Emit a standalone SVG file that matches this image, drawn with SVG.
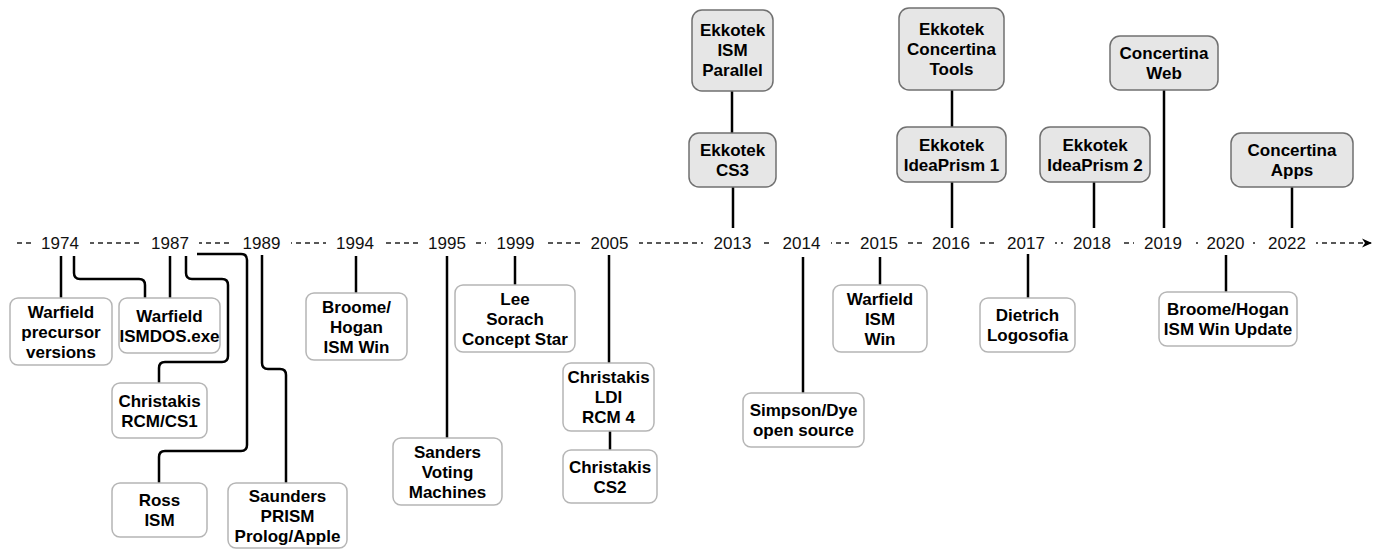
<svg xmlns="http://www.w3.org/2000/svg" width="1378" height="549" viewBox="0 0 1378 549">
<style>
.b{fill:#fff;stroke:#b5b5b5;stroke-width:1.5}
.t{fill:#e6e6e6;stroke:#707070;stroke-width:1.5}
.lbl{font-family:"Liberation Sans",Arial,sans-serif;font-weight:bold;font-size:17px;fill:#000;text-anchor:middle}
.yr{font-family:"Liberation Sans",Arial,sans-serif;font-size:17px;fill:#111;text-anchor:middle}
.c{fill:none;stroke:#000;stroke-width:2.5}
.ybg{fill:#fff}
</style>
<defs>
<marker id="arr" markerWidth="10" markerHeight="10" refX="9" refY="5" orient="auto" markerUnits="userSpaceOnUse">
<path d="M0 0.5 L10 5 L0 9.5 L3 5 Z" fill="#000"/>
</marker>
</defs>
<rect width="1378" height="549" fill="#fff"/>
<g id="timeline">
<line x1="17" y1="243" x2="1371" y2="243" stroke="#222" stroke-width="1.5" stroke-dasharray="5 4" marker-end="url(#arr)"/>
<g class="ybg">
<rect x="31" y="232" width="59" height="22"/>
<rect x="141" y="232" width="58" height="22"/>
<rect x="232" y="232" width="59" height="22"/>
<rect x="326" y="232" width="58" height="22"/>
<rect x="418" y="232" width="58" height="22"/>
<rect x="486" y="232" width="59" height="22"/>
<rect x="580" y="232" width="59" height="22"/>
<rect x="703" y="232" width="59" height="22"/>
<rect x="772" y="232" width="59" height="22"/>
<rect x="849" y="232" width="59" height="22"/>
<rect x="922" y="232" width="58" height="22"/>
<rect x="997" y="232" width="58" height="22"/>
<rect x="1063" y="232" width="58" height="22"/>
<rect x="1134" y="232" width="58" height="22"/>
<rect x="1198" y="232" width="55" height="22"/>
<rect x="1258" y="232" width="58" height="22"/>
</g>
<text class="yr" x="60" y="248.5">1974</text>
<text class="yr" x="170" y="248.5">1987</text>
<text class="yr" x="261.5" y="248.5">1989</text>
<text class="yr" x="355" y="248.5">1994</text>
<text class="yr" x="447" y="248.5">1995</text>
<text class="yr" x="515.5" y="248.5">1999</text>
<text class="yr" x="609.5" y="248.5">2005</text>
<text class="yr" x="732.5" y="248.5">2013</text>
<text class="yr" x="801.5" y="248.5">2014</text>
<text class="yr" x="879" y="248.5">2015</text>
<text class="yr" x="951" y="248.5">2016</text>
<text class="yr" x="1026" y="248.5">2017</text>
<text class="yr" x="1092" y="248.5">2018</text>
<text class="yr" x="1163" y="248.5">2019</text>
<text class="yr" x="1225.5" y="248.5">2020</text>
<text class="yr" x="1287" y="248.5">2022</text>
</g>
<g id="connectors">
<path class="c" d="M61 256 V298"/>
<path class="c" d="M74 256 V273 Q74 279 80 279 H139 Q145 279 145 285 V298"/>
<path class="c" d="M170 256 V298"/>
<path class="c" d="M186 256 V273 Q186 279 192 279 H222 Q228 279 228 285 V356 Q228 362 222 362 H165 Q159 362 159 368 V383"/>
<path class="c" d="M197 254 H241 Q247 254 247 260 V445 Q247 451 241 451 H165 Q159 451 159 457 V483"/>
<path class="c" d="M262 255 V363 Q262 369 268 369 H280 Q286 369 286 375 V483"/>
<path class="c" d="M356 256 V293"/>
<path class="c" d="M447 256 V438"/>
<path class="c" d="M515 256 V285"/>
<path class="c" d="M609 255 V363"/>
<path class="c" d="M610 431 V450"/>
<path class="c" d="M733 187 V228"/>
<path class="c" d="M732 91 V133"/>
<path class="c" d="M952 90 V127"/>
<path class="c" d="M952 182 V228"/>
<path class="c" d="M1094 182 V228"/>
<path class="c" d="M1164 90 V228"/>
<path class="c" d="M1292 187 V228"/>
<path class="c" d="M803 257 V393"/>
<path class="c" d="M880 257 V285"/>
<path class="c" d="M1028 254 V298"/>
<path class="c" d="M1226 255 V292"/>
</g>
<g id="n-warfield-precursor"><rect class="b" x="10" y="298" width="102" height="67" rx="8"/><text class="lbl"><tspan x="61" y="317.5">Warfield</tspan><tspan x="61" y="337.5">precursor</tspan><tspan x="61" y="357.5">versions</tspan></text></g>
<g id="n-warfield-ismdos"><rect class="b" x="119" y="298" width="101" height="55" rx="8"/><text class="lbl"><tspan x="169.5" y="321.5">Warfield</tspan><tspan x="169.5" y="341.5">ISMDOS.exe</tspan></text></g>
<g id="n-christakis-rcm"><rect class="b" x="112" y="383" width="95" height="55" rx="8"/><text class="lbl"><tspan x="159.5" y="406.5">Christakis</tspan><tspan x="159.5" y="426.5">RCM/CS1</tspan></text></g>
<g id="n-ross"><rect class="b" x="112" y="483" width="95" height="54" rx="8"/><text class="lbl"><tspan x="159.5" y="506">Ross</tspan><tspan x="159.5" y="526">ISM</tspan></text></g>
<g id="n-saunders"><rect class="b" x="228" y="483" width="119" height="65" rx="8"/><text class="lbl"><tspan x="287.5" y="501.5">Saunders</tspan><tspan x="287.5" y="521.5">PRISM</tspan><tspan x="287.5" y="541.5">Prolog/Apple</tspan></text></g>
<g id="n-broome-hogan"><rect class="b" x="306" y="293" width="101" height="67" rx="8"/><text class="lbl"><tspan x="356.5" y="312.5">Broome/</tspan><tspan x="356.5" y="332.5">Hogan</tspan><tspan x="356.5" y="352.5">ISM Win</tspan></text></g>
<g id="n-sanders"><rect class="b" x="393" y="438" width="109" height="67" rx="8"/><text class="lbl"><tspan x="447.5" y="457.5">Sanders</tspan><tspan x="447.5" y="477.5">Voting</tspan><tspan x="447.5" y="497.5">Machines</tspan></text></g>
<g id="n-lee"><rect class="b" x="455" y="285" width="120" height="67" rx="8"/><text class="lbl"><tspan x="515" y="304.5">Lee</tspan><tspan x="515" y="324.5">Sorach</tspan><tspan x="515" y="344.5">Concept Star</tspan></text></g>
<g id="n-christakis-ldi"><rect class="b" x="563" y="363" width="91" height="68" rx="8"/><text class="lbl"><tspan x="608.5" y="383">Christakis</tspan><tspan x="608.5" y="403">LDI</tspan><tspan x="608.5" y="423">RCM 4</tspan></text></g>
<g id="n-christakis-cs2"><rect class="b" x="563" y="450" width="94" height="53" rx="8"/><text class="lbl"><tspan x="610" y="472.5">Christakis</tspan><tspan x="610" y="492.5">CS2</tspan></text></g>
<g id="n-ekkotek-parallel"><rect class="t" x="692" y="10" width="81" height="81" rx="10"/><text class="lbl"><tspan x="732.5" y="36">Ekkotek</tspan><tspan x="732.5" y="56">ISM</tspan><tspan x="732.5" y="76">Parallel</tspan></text></g>
<g id="n-ekkotek-cs3"><rect class="t" x="689" y="133" width="87" height="54" rx="10"/><text class="lbl"><tspan x="732.5" y="156">Ekkotek</tspan><tspan x="732.5" y="176">CS3</tspan></text></g>
<g id="n-ekkotek-concertina"><rect class="t" x="899" y="8" width="105" height="82" rx="10"/><text class="lbl"><tspan x="951.5" y="35">Ekkotek</tspan><tspan x="951.5" y="55">Concertina</tspan><tspan x="951.5" y="75">Tools</tspan></text></g>
<g id="n-ideaprism1"><rect class="t" x="897" y="127" width="109" height="55" rx="10"/><text class="lbl"><tspan x="951.5" y="150.5">Ekkotek</tspan><tspan x="951.5" y="170.5">IdeaPrism 1</tspan></text></g>
<g id="n-ideaprism2"><rect class="t" x="1040" y="127" width="110" height="55" rx="10"/><text class="lbl"><tspan x="1095" y="150.5">Ekkotek</tspan><tspan x="1095" y="170.5">IdeaPrism 2</tspan></text></g>
<g id="n-concertina-web"><rect class="t" x="1110" y="36" width="108" height="54" rx="10"/><text class="lbl"><tspan x="1164" y="59">Concertina</tspan><tspan x="1164" y="79">Web</tspan></text></g>
<g id="n-concertina-apps"><rect class="t" x="1231" y="133" width="122" height="54" rx="10"/><text class="lbl"><tspan x="1292" y="156">Concertina</tspan><tspan x="1292" y="176">Apps</tspan></text></g>
<g id="n-simpson"><rect class="b" x="743" y="393" width="121" height="54" rx="8"/><text class="lbl"><tspan x="803.5" y="416">Simpson/Dye</tspan><tspan x="803.5" y="436">open source</tspan></text></g>
<g id="n-warfield-ismwin"><rect class="b" x="833" y="285" width="94" height="67" rx="8"/><text class="lbl"><tspan x="880" y="304.5">Warfield</tspan><tspan x="880" y="324.5">ISM</tspan><tspan x="880" y="344.5">Win</tspan></text></g>
<g id="n-dietrich"><rect class="b" x="980" y="298" width="95" height="54" rx="8"/><text class="lbl"><tspan x="1027.5" y="321">Dietrich</tspan><tspan x="1027.5" y="341">Logosofia</tspan></text></g>
<g id="n-broome-update"><rect class="b" x="1159" y="292" width="138" height="54" rx="8"/><text class="lbl"><tspan x="1228" y="315">Broome/Hogan</tspan><tspan x="1228" y="335">ISM Win Update</tspan></text></g>
</svg>
